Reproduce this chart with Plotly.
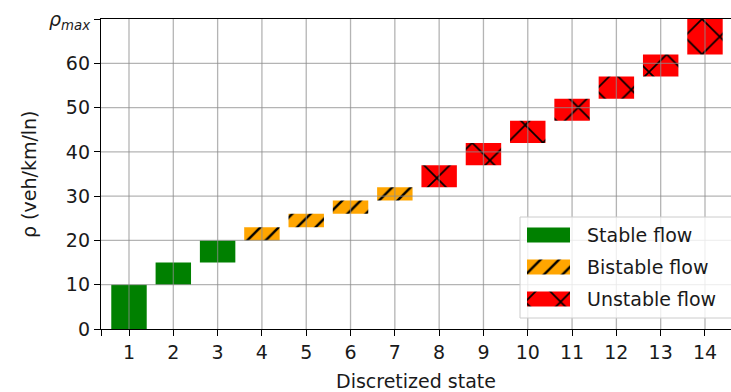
import plotly.graph_objects as go

# Discretized density states: lower/upper bounds of each interval (veh/km/ln)
states = list(range(1, 15))
lower = [0, 10, 15, 20, 23, 26, 29, 32, 37, 42, 47, 52, 57, 62]
upper = [10, 15, 20, 23, 26, 29, 32, 37, 42, 47, 52, 57, 62, 70]
regime = ["stable"] * 3 + ["bistable"] * 4 + ["unstable"] * 7

# regime key, legend label, fill colour, hatch shape, hatch tile size, hatch solidity
regimes = [
    ("stable", "Stable flow", "#008000", "", 10, 0.2),
    ("bistable", "Bistable flow", "#FFA500", "/", 13, 0.19),
    ("unstable", "Unstable flow", "#FF0000", "x", 25, 0.13),
]

y_ticks = [0, 10, 20, 30, 40, 50, 60, 70]
y_ticktext = ["0", "10", "20", "30", "40", "50", "60", "<i>ρ<sub>max</sub></i>"]
x_range = [0.368, 14.587]
y_range = [0, 70]

FONT = "DejaVu Sans"
FS = 19
INK = "#1a1a1a"
GRID = "rgba(140,140,140,0.65)"

# plot area in pixels (figure 731 x 392)
W, H = 731, 392
L, R, T, B = 101, 0, 19, 63
PW, PH = W - L - R, H - T - B


def fx(px):
    return (px - L) / PW


def fy(py):
    return (H - B - py) / PH


def pattern(shape, color, size, solidity):
    return dict(shape=shape, fgcolor="black", fgopacity=1, bgcolor=color,
                size=size, solidity=solidity, fillmode="overlay")


def rect_bar(x0, x1, y0, y1, **kw):
    """A bar on the overlay (pixel-fraction) axes spanning the given pixel box."""
    return go.Bar(
        x=[fx((x0 + x1) / 2)], width=[(x1 - x0) / PW],
        base=[fy(y1)], y=[(y1 - y0) / PH],
        xaxis="x2", yaxis="y2", showlegend=False, hoverinfo="skip", **kw,
    )


fig = go.Figure()

# floating bars, one trace per flow regime
for key, name, color, shape, size, sol in regimes:
    idx = [i for i, r in enumerate(regime) if r == key]
    fig.add_trace(go.Bar(
        x=[states[i] for i in idx],
        base=[lower[i] for i in idx],
        y=[upper[i] - lower[i] for i in idx],
        width=0.8, name=name, showlegend=False, hoverinfo="skip",
        marker=dict(color=color, line=dict(width=0),
                    pattern=pattern(shape, color, size, sol)),
    ))

# grid drawn over the bars
gx, gy = [], []
for s in states:
    gx += [s, s, None]
    gy += [y_range[0], y_range[1], None]
for v in y_ticks[1:-1]:
    gx += [x_range[0], x_range[1], None]
    gy += [v, v, None]
fig.add_trace(go.Scatter(x=gx, y=gy, mode="lines", line=dict(color=GRID, width=1.3),
                         showlegend=False, hoverinfo="skip"))

# legend: box and patches on an overlay subplot above the grid
fig.add_trace(rect_bar(520, 760, 217, 318,
                       marker=dict(color="rgba(255,255,255,0.8)",
                                   line=dict(color="#cccccc", width=1))))

row_y = [235, 267, 299]
patch_x0, patch_x1, patch_h = 527, 570, 15
annotations = []
for (key, name, color, shape, size, sol), ry in zip(regimes, row_y):
    fig.add_trace(rect_bar(patch_x0, patch_x1, ry - patch_h / 2, ry + patch_h / 2,
                           marker=dict(color=color, line=dict(width=0),
                                       pattern=pattern(shape, color, size, sol))))
    annotations.append(dict(
        text=name, xref="paper", yref="paper", x=fx(585), y=fy(ry),
        xanchor="left", yanchor="middle", showarrow=False,
        font=dict(family=FONT, size=FS, color=INK),
    ))

# y-axis title
annotations.append(dict(
    text="ρ (veh/km/ln)", xref="paper", yref="paper", x=fx(29), y=0.5,
    xanchor="center", yanchor="middle", textangle=-90, showarrow=False,
    font=dict(family=FONT, size=FS, color=INK),
))

fig.update_layout(
    width=W, height=H,
    margin=dict(l=L, r=R, t=T, b=B),
    paper_bgcolor="white", plot_bgcolor="white",
    font=dict(family=FONT, size=FS, color=INK),
    barmode="overlay",
    showlegend=False,
    annotations=annotations,
    xaxis=dict(
        range=x_range,
        tickvals=states,
        ticktext=[str(s) for s in states],
        ticks="outside", ticklen=6, tickwidth=1.3, tickcolor="black",
        minor=dict(tickvals=[x_range[0]], ticks="outside", ticklen=6,
                   tickwidth=1.3, tickcolor="black", showgrid=False),
        showline=True, linecolor="black", linewidth=1.3, mirror=True,
        showgrid=False, zeroline=False,
        title=dict(text="Discretized state", font=dict(size=FS), standoff=13),
        tickfont=dict(size=FS),
    ),
    yaxis=dict(
        range=y_range,
        tickvals=y_ticks, ticktext=y_ticktext,
        ticks="outside", ticklen=6, tickwidth=1.3, tickcolor="black",
        showline=True, linecolor="black", linewidth=1.3, mirror=False,
        showgrid=False, zeroline=False,
        tickfont=dict(size=FS),
    ),
    xaxis2=dict(overlaying="x", range=[0, 1], visible=False, fixedrange=True),
    yaxis2=dict(overlaying="y", range=[0, 1], visible=False, fixedrange=True),
)

fig.write_html("out.html")
